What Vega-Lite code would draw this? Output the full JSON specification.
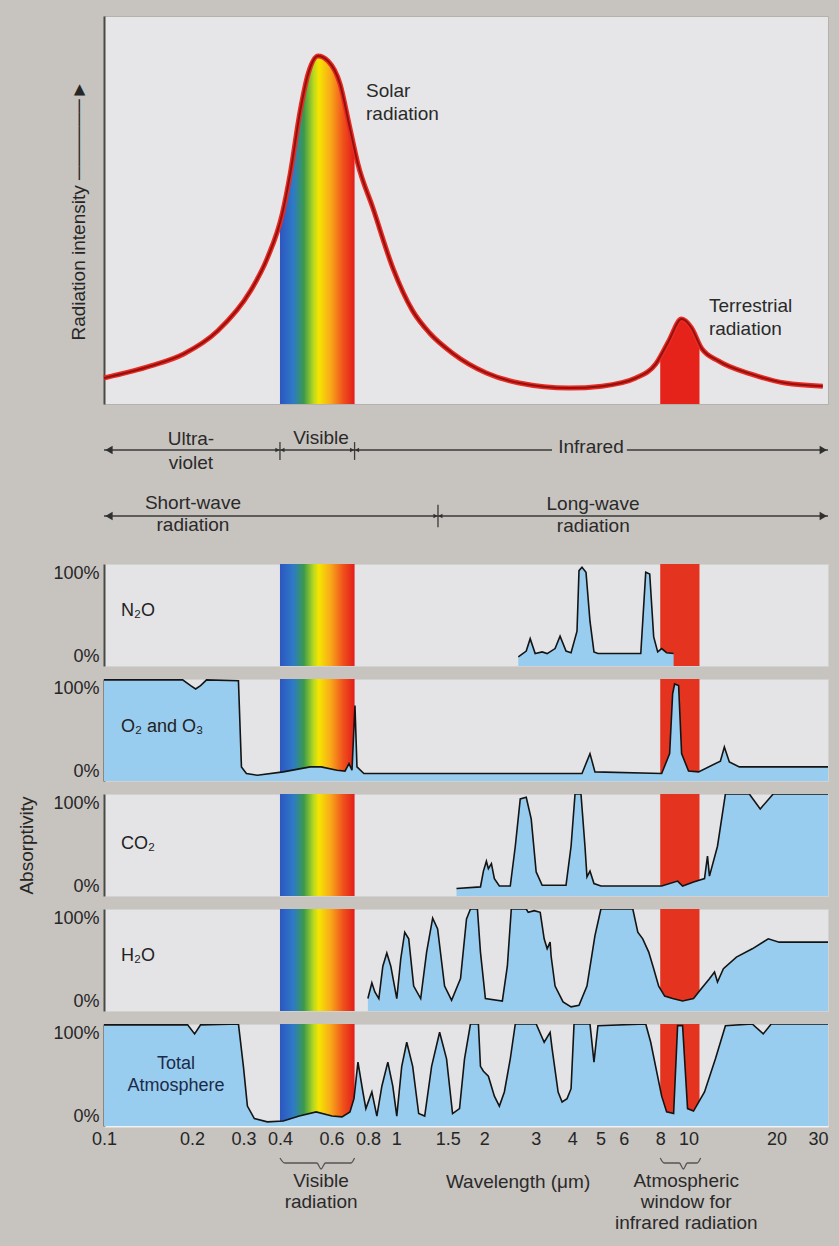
{
  "$schema": "https://vega.github.io/schema/vega-lite/v6.json",
  "background": "#c7c3bf",
  "padding": {"left": 17, "top": 15, "right": 12, "bottom": 8},
  "spacing": 13,
  "bounds": "flush",
  "datasets": {
    "bands": [{"band": "visible", "start": 0.4, "end": 0.72}, {"band": "window", "start": 8, "end": 10.9}],
    "solar": [
      {"w": 0.1, "v": 6.7}, {"w": 0.1445, "v": 9.8}, {"w": 0.1874, "v": 12.9}, {"w": 0.2446, "v": 18.8},
      {"w": 0.3169, "v": 29.1}, {"w": 0.3621, "v": 37.6}, {"w": 0.4073, "v": 49.0}, {"w": 0.4336, "v": 59.3},
      {"w": 0.469, "v": 75.5}, {"w": 0.4994, "v": 85.1}, {"w": 0.54, "v": 89.7}, {"w": 0.584, "v": 88.4},
      {"w": 0.642, "v": 82.5}, {"w": 0.694, "v": 71.1}, {"w": 0.739, "v": 61.9}, {"w": 0.832, "v": 50.5},
      {"w": 0.973, "v": 35.1}, {"w": 1.138, "v": 24.0}, {"w": 1.3, "v": 18.3}, {"w": 1.558, "v": 13.1},
      {"w": 2.034, "v": 8.0}, {"w": 2.636, "v": 5.4}, {"w": 3.9, "v": 4.1}, {"w": 5.05, "v": 4.6},
      {"w": 6.6, "v": 6.7}, {"w": 7.72, "v": 10.3}, {"w": 8.55, "v": 16.2}, {"w": 9.46, "v": 21.9},
      {"w": 10.24, "v": 19.6}, {"w": 11.07, "v": 14.4}, {"w": 12.65, "v": 11.1}, {"w": 16.39, "v": 7.7},
      {"w": 21.4, "v": 5.4}, {"w": 28.8, "v": 4.6}
    ],
    "solarVis": [
      {"w": 0.4, "v": 47.5}, {"w": 0.4073, "v": 49.0}, {"w": 0.4336, "v": 59.3}, {"w": 0.469, "v": 75.5},
      {"w": 0.4994, "v": 85.1}, {"w": 0.54, "v": 89.7}, {"w": 0.584, "v": 88.4}, {"w": 0.642, "v": 82.5},
      {"w": 0.694, "v": 71.1}, {"w": 0.72, "v": 66.0}
    ],
    "terr": [
      {"w": 8.0, "v": 12.0}, {"w": 8.55, "v": 16.2}, {"w": 9.46, "v": 21.9}, {"w": 10.24, "v": 19.6}, {"w": 10.9, "v": 15.5}
    ],
    "toplabels": [
      {"w": 0.788, "v": 80.7, "text": "Solar"}, {"w": 0.788, "v": 74.7, "text": "radiation"},
      {"w": 11.74, "v": 25.3, "text": "Terrestrial"}, {"w": 11.74, "v": 19.3, "text": "radiation"}
    ],
    "arrows": [
      {"row": 1, "a": 0.1, "b": 0.4}, {"row": 1, "a": 0.4, "b": 0.72}, {"row": 1, "a": 0.72, "b": 3.41},
      {"row": 1, "a": 6.15, "b": 30}, {"row": 2, "a": 0.1, "b": 1.389}, {"row": 2, "a": 1.389, "b": 30}
    ],
    "heads": [
      {"w": 0.104, "row": 1, "dir": "left", "kind": "end"}, {"w": 28.9, "row": 1, "dir": "right", "kind": "end"},
      {"w": 0.104, "row": 2, "dir": "left", "kind": "end"}, {"w": 28.9, "row": 2, "dir": "right", "kind": "end"},
      {"w": 0.392, "row": 1, "dir": "right", "kind": "mid"}, {"w": 0.408, "row": 1, "dir": "left", "kind": "mid"},
      {"w": 0.706, "row": 1, "dir": "right", "kind": "mid"}, {"w": 0.734, "row": 1, "dir": "left", "kind": "mid"},
      {"w": 1.362, "row": 2, "dir": "right", "kind": "mid"}, {"w": 1.416, "row": 2, "dir": "left", "kind": "mid"}
    ],
    "ticks": [
      {"w": 0.4, "t": 0.88, "b": 1.15}, {"w": 0.72, "t": 0.88, "b": 1.15}, {"w": 1.389, "t": 1.83, "b": 2.17}
    ],
    "bandtext": [
      {"w": 0.1984, "row": 0.833, "text": "Ultra-"}, {"w": 0.1984, "row": 1.197, "text": "violet"},
      {"w": 0.553, "row": 0.818, "text": "Visible"}, {"w": 4.636, "row": 0.955, "text": "Infrared"},
      {"w": 0.2015, "row": 1.803, "text": "Short-wave"}, {"w": 0.2015, "row": 2.136, "text": "radiation"},
      {"w": 4.71, "row": 1.818, "text": "Long-wave"}, {"w": 4.72, "row": 2.152, "text": "radiation"}
    ],
    "braces": [
      {"g": "vis", "w": 0.4, "y": 19}, {"g": "vis", "w": 0.415, "y": 24}, {"g": "vis", "w": 0.535, "y": 24},
      {"g": "vis", "w": 0.553, "y": 30}, {"g": "vis", "w": 0.572, "y": 24}, {"g": "vis", "w": 0.7, "y": 24},
      {"g": "vis", "w": 0.72, "y": 19},
      {"g": "win", "w": 8.0, "y": 19}, {"g": "win", "w": 8.25, "y": 24}, {"g": "win", "w": 9.3, "y": 24},
      {"g": "win", "w": 9.6, "y": 30}, {"g": "win", "w": 9.9, "y": 24}, {"g": "win", "w": 10.7, "y": 24},
      {"g": "win", "w": 11.0, "y": 19}
    ],
    "bottomtext": [
      {"w": 0.553, "y": 42, "text": "Visible"}, {"w": 0.553, "y": 63, "text": "radiation"},
      {"w": 2.61, "y": 43, "text": "Wavelength (μm)"}, {"w": 9.82, "y": 42, "text": "Atmospheric"},
      {"w": 9.82, "y": 63, "text": "window for"}, {"w": 9.82, "y": 84, "text": "infrared radiation"}
    ],
    "n2o": [
      {"w": 2.615, "v": 0}, {"w": 2.784, "v": 7}, {"w": 2.872, "v": 22}, {"w": 2.987, "v": 4}, {"w": 3.156, "v": 6},
      {"w": 3.283, "v": 4}, {"w": 3.494, "v": 10}, {"w": 3.634, "v": 25}, {"w": 3.809, "v": 7}, {"w": 3.963, "v": 5},
      {"w": 4.153, "v": 31}, {"w": 4.219, "v": 104}, {"w": 4.319, "v": 108}, {"w": 4.458, "v": 102}, {"w": 4.6, "v": 43},
      {"w": 4.747, "v": 6}, {"w": 4.897, "v": 4}, {"w": 6.863, "v": 4}, {"w": 6.971, "v": 43}, {"w": 7.137, "v": 102},
      {"w": 7.364, "v": 100}, {"w": 7.599, "v": 24}, {"w": 7.842, "v": 6}, {"w": 8.091, "v": 10}, {"w": 8.414, "v": 5},
      {"w": 8.89, "v": 4}
    ],
    "o2": [
      {"w": 0.1, "v": 111}, {"w": 0.1858, "v": 111}, {"w": 0.1979, "v": 104}, {"w": 0.2058, "v": 100}, {"w": 0.214, "v": 104},
      {"w": 0.2243, "v": 111}, {"w": 0.2884, "v": 110}, {"w": 0.2953, "v": 6}, {"w": 0.3071, "v": -2}, {"w": 0.3346, "v": -4},
      {"w": 0.4105, "v": 0}, {"w": 0.5075, "v": 6}, {"w": 0.5532, "v": 6}, {"w": 0.6269, "v": 2}, {"w": 0.6677, "v": 1},
      {"w": 0.689, "v": 10}, {"w": 0.7055, "v": 2}, {"w": 0.7222, "v": 80}, {"w": 0.7337, "v": 6}, {"w": 0.7748, "v": -2},
      {"w": 1.28, "v": -2}, {"w": 4.319, "v": -2}, {"w": 4.6, "v": 22}, {"w": 4.784, "v": 0}, {"w": 8.091, "v": -2},
      {"w": 8.616, "v": 22}, {"w": 8.821, "v": 94}, {"w": 8.96, "v": 106}, {"w": 9.247, "v": 104}, {"w": 9.467, "v": 22},
      {"w": 10.0, "v": 1}, {"w": 10.82, "v": 0}, {"w": 12.85, "v": 13}, {"w": 13.26, "v": 30}, {"w": 13.79, "v": 12},
      {"w": 14.92, "v": 6}, {"w": 30, "v": 6}
    ],
    "co2": [
      {"w": 1.607, "v": -2}, {"w": 1.941, "v": 0}, {"w": 1.987, "v": 19}, {"w": 2.034, "v": 31}, {"w": 2.066, "v": 22},
      {"w": 2.116, "v": 28}, {"w": 2.166, "v": 10}, {"w": 2.253, "v": 1}, {"w": 2.455, "v": 1}, {"w": 2.554, "v": 49},
      {"w": 2.656, "v": 106}, {"w": 2.784, "v": 108}, {"w": 2.895, "v": 82}, {"w": 3.011, "v": 18}, {"w": 3.156, "v": 2},
      {"w": 3.809, "v": 2}, {"w": 3.963, "v": 49}, {"w": 4.089, "v": 112}, {"w": 4.285, "v": 112}, {"w": 4.422, "v": 49},
      {"w": 4.492, "v": 12}, {"w": 4.6, "v": 19}, {"w": 4.747, "v": 4}, {"w": 5.013, "v": 1}, {"w": 8.091, "v": 1},
      {"w": 9.174, "v": 7}, {"w": 9.541, "v": 1}, {"w": 10.4, "v": 6}, {"w": 11.34, "v": 10}, {"w": 11.61, "v": 37},
      {"w": 11.79, "v": 13}, {"w": 12.56, "v": 49}, {"w": 13.37, "v": 112}, {"w": 16.14, "v": 112}, {"w": 17.59, "v": 94},
      {"w": 19.48, "v": 112}, {"w": 30, "v": 112}
    ],
    "h2o": [
      {"w": 0.7996, "v": 4}, {"w": 0.8251, "v": 23}, {"w": 0.8448, "v": 12}, {"w": 0.8717, "v": 4}, {"w": 0.8995, "v": 43},
      {"w": 0.9282, "v": 59}, {"w": 0.9578, "v": 43}, {"w": 1.004, "v": 4}, {"w": 1.036, "v": 52}, {"w": 1.069, "v": 84},
      {"w": 1.103, "v": 76}, {"w": 1.147, "v": 19}, {"w": 1.212, "v": 4}, {"w": 1.27, "v": 60}, {"w": 1.332, "v": 101},
      {"w": 1.385, "v": 88}, {"w": 1.463, "v": 19}, {"w": 1.546, "v": 2}, {"w": 1.659, "v": 28}, {"w": 1.739, "v": 100},
      {"w": 1.794, "v": 112}, {"w": 1.895, "v": 112}, {"w": 1.941, "v": 60}, {"w": 2.018, "v": 4}, {"w": 2.306, "v": 1},
      {"w": 2.399, "v": 43}, {"w": 2.475, "v": 112}, {"w": 2.784, "v": 112}, {"w": 2.828, "v": 108}, {"w": 2.964, "v": 110},
      {"w": 3.108, "v": 108}, {"w": 3.206, "v": 76}, {"w": 3.283, "v": 64}, {"w": 3.36, "v": 72}, {"w": 3.387, "v": 55},
      {"w": 3.494, "v": 19}, {"w": 3.721, "v": 0}, {"w": 3.963, "v": -6}, {"w": 4.219, "v": -4}, {"w": 4.492, "v": 19},
      {"w": 4.784, "v": 80}, {"w": 5.013, "v": 112}, {"w": 6.446, "v": 112}, {"w": 6.705, "v": 84}, {"w": 6.971, "v": 76},
      {"w": 7.307, "v": 60}, {"w": 7.599, "v": 40}, {"w": 7.904, "v": 19}, {"w": 8.285, "v": 7}, {"w": 8.821, "v": 4},
      {"w": 9.541, "v": 1}, {"w": 10.4, "v": 4}, {"w": 11.07, "v": 16}, {"w": 11.79, "v": 28}, {"w": 12.27, "v": 36},
      {"w": 12.56, "v": 24}, {"w": 13.16, "v": 40}, {"w": 14.58, "v": 54}, {"w": 16.52, "v": 64}, {"w": 18.74, "v": 76},
      {"w": 20.42, "v": 72}, {"w": 22.09, "v": 72}, {"w": 30, "v": 72}
    ],
    "total": [
      {"w": 0.1, "v": 111}, {"w": 0.1932, "v": 111}, {"w": 0.2042, "v": 100}, {"w": 0.214, "v": 111}, {"w": 0.2884, "v": 112},
      {"w": 0.2999, "v": 61}, {"w": 0.3095, "v": 13}, {"w": 0.3269, "v": -2}, {"w": 0.3621, "v": -6}, {"w": 0.4105, "v": -5},
      {"w": 0.4655, "v": 1}, {"w": 0.5318, "v": 6}, {"w": 0.6028, "v": 1}, {"w": 0.6522, "v": 0}, {"w": 0.6942, "v": 6},
      {"w": 0.7166, "v": 22}, {"w": 0.7394, "v": 66}, {"w": 0.7688, "v": 30}, {"w": 0.787, "v": 10}, {"w": 0.8251, "v": 30},
      {"w": 0.8582, "v": 1}, {"w": 0.8926, "v": 37}, {"w": 0.9356, "v": 66}, {"w": 0.973, "v": 37}, {"w": 1.004, "v": 1},
      {"w": 1.044, "v": 61}, {"w": 1.086, "v": 90}, {"w": 1.138, "v": 61}, {"w": 1.193, "v": 4}, {"w": 1.251, "v": 1},
      {"w": 1.321, "v": 61}, {"w": 1.407, "v": 102}, {"w": 1.486, "v": 70}, {"w": 1.558, "v": 4}, {"w": 1.646, "v": 10},
      {"w": 1.712, "v": 70}, {"w": 1.794, "v": 112}, {"w": 1.91, "v": 112}, {"w": 1.941, "v": 61}, {"w": 1.987, "v": 55},
      {"w": 2.066, "v": 49}, {"w": 2.166, "v": 25}, {"w": 2.253, "v": 13}, {"w": 2.343, "v": 30}, {"w": 2.455, "v": 70},
      {"w": 2.554, "v": 112}, {"w": 3.011, "v": 112}, {"w": 3.206, "v": 90}, {"w": 3.36, "v": 102}, {"w": 3.414, "v": 82},
      {"w": 3.579, "v": 30}, {"w": 3.693, "v": 18}, {"w": 3.84, "v": 22}, {"w": 3.963, "v": 34}, {"w": 4.057, "v": 112},
      {"w": 4.6, "v": 112}, {"w": 4.747, "v": 66}, {"w": 4.897, "v": 110}, {"w": 7.137, "v": 112}, {"w": 7.422, "v": 90},
      {"w": 8.091, "v": 25}, {"w": 8.414, "v": 6}, {"w": 8.89, "v": 4}, {"w": 9.174, "v": 110}, {"w": 9.541, "v": 110},
      {"w": 9.922, "v": 10}, {"w": 10.4, "v": 7}, {"w": 11.34, "v": 30}, {"w": 12.36, "v": 70}, {"w": 13.37, "v": 110},
      {"w": 16.52, "v": 112}, {"w": 18.01, "v": 100}, {"w": 19.18, "v": 112}, {"w": 30, "v": 112}
    ]
  },
  "vconcat": [
    {
      "width": 724, "height": 388,
      "view": {"fill": "#e6e6e8", "stroke": "#b5b1ad"},
      "encoding": {
        "x": {"field": "w", "type": "quantitative", "scale": {"type": "log", "domain": [0.1, 30], "nice": false}, "axis": null},
        "y": {"field": "v", "type": "quantitative", "scale": {"domain": [0, 100], "nice": false},
              "axis": {"title": "Radiation intensity ──────►", "labels": false, "ticks": false, "grid": false, "domainColor": "#4a4a44", "domainWidth": 2, "titlePadding": 16}}
      },
      "layer": [
        {"data": {"name": "solarVis"},
         "mark": {"type": "area", "interpolate": "monotone",
                  "fill": {"gradient": "linear", "x1": 0, "y1": 0, "x2": 1, "y2": 0,
                           "stops": [{"offset": 0, "color": "#2d55c0"}, {"offset": 0.18, "color": "#2e7ac8"}, {"offset": 0.32, "color": "#3a9a4a"}, {"offset": 0.45, "color": "#b8d820"}, {"offset": 0.52, "color": "#f5e600"}, {"offset": 0.68, "color": "#f8a81a"}, {"offset": 0.85, "color": "#f0501c"}, {"offset": 1, "color": "#e21d18"}]}}},
        {"data": {"name": "terr"},
         "mark": {"type": "area", "interpolate": "monotone", "fill": "#e5231b"}},
        {"data": {"name": "solar"},
         "mark": {"type": "line", "interpolate": "monotone", "stroke": "#ec2a22", "strokeWidth": 5}},
        {"data": {"name": "solar"},
         "mark": {"type": "line", "interpolate": "monotone", "stroke": "#8e1210", "strokeWidth": 2}},
        {"data": {"name": "toplabels"},
         "mark": {"type": "text", "align": "left", "fontSize": 19, "color": "#2a2a2a"},
         "encoding": {"text": {"field": "text"}}}
      ]
    },
    {
      "width": 724, "height": 134,
      "view": {"fill": null, "stroke": null},
      "layer": [
        {"data": {"name": "arrows"},
         "mark": {"type": "rule", "color": "#3a3a3a", "strokeWidth": 1.3},
         "encoding": {
           "x": {"field": "a", "type": "quantitative", "scale": {"type": "log", "domain": [0.1, 30], "nice": false}, "axis": null},
           "x2": {"field": "b"},
           "y": {"field": "row", "type": "quantitative", "scale": {"domain": [0.5, 2.53], "reverse": true, "nice": false, "zero": false}, "axis": null}
         }},
        {"data": {"name": "ticks"},
         "mark": {"type": "rule", "color": "#3a3a3a", "strokeWidth": 1.3},
         "encoding": {
           "x": {"field": "w", "type": "quantitative", "scale": {"type": "log", "domain": [0.1, 30], "nice": false}, "axis": null},
           "y": {"field": "t", "type": "quantitative", "scale": {"domain": [0.5, 2.53], "reverse": true, "nice": false, "zero": false}, "axis": null},
           "y2": {"field": "b"}
         }},
        {"data": {"name": "heads"},
         "transform": [{"filter": "datum.kind == 'end'"}],
         "mark": {"type": "point", "filled": true, "size": 70, "color": "#2f2f2f", "opacity": 1},
         "encoding": {
           "x": {"field": "w", "type": "quantitative", "scale": {"type": "log", "domain": [0.1, 30], "nice": false}, "axis": null},
           "y": {"field": "row", "type": "quantitative", "scale": {"domain": [0.5, 2.53], "reverse": true, "nice": false, "zero": false}, "axis": null},
           "shape": {"field": "dir", "type": "nominal", "scale": {"domain": ["left", "right"], "range": ["triangle-left", "triangle-right"]}, "legend": null}
         }},
        {"data": {"name": "heads"},
         "transform": [{"filter": "datum.kind == 'mid'"}],
         "mark": {"type": "point", "filled": true, "size": 22, "color": "#2f2f2f", "opacity": 1},
         "encoding": {
           "x": {"field": "w", "type": "quantitative", "scale": {"type": "log", "domain": [0.1, 30], "nice": false}, "axis": null},
           "y": {"field": "row", "type": "quantitative", "scale": {"domain": [0.5, 2.53], "reverse": true, "nice": false, "zero": false}, "axis": null},
           "shape": {"field": "dir", "type": "nominal", "scale": {"domain": ["left", "right"], "range": ["triangle-left", "triangle-right"]}, "legend": null}
         }},
        {"data": {"name": "bandtext"},
         "mark": {"type": "text", "fontSize": 19, "color": "#2a2a2a"},
         "encoding": {
           "x": {"field": "w", "type": "quantitative", "scale": {"type": "log", "domain": [0.1, 30], "nice": false}, "axis": null},
           "y": {"field": "row", "type": "quantitative", "scale": {"domain": [0.5, 2.53], "reverse": true, "nice": false, "zero": false}, "axis": null},
           "text": {"field": "text"}
         }}
      ]
    },
    {
      "width": 724, "height": 102,
      "layer": [
        {"data": {"name": "bands"}, "transform": [{"filter": "datum.band == 'visible'"}],
         "mark": {"type": "rect", "fill": {"gradient": "linear", "x1": 0, "y1": 0, "x2": 1, "y2": 0,
                  "stops": [{"offset": 0, "color": "#2d55c0"}, {"offset": 0.18, "color": "#2e7ac8"}, {"offset": 0.32, "color": "#3a9a4a"}, {"offset": 0.45, "color": "#b8d820"}, {"offset": 0.52, "color": "#f5e600"}, {"offset": 0.68, "color": "#f8a81a"}, {"offset": 0.85, "color": "#f0501c"}, {"offset": 1, "color": "#e21d18"}]}},
         "encoding": {"x": {"field": "start", "type": "quantitative", "scale": {"type": "log", "domain": [0.1, 30], "nice": false}, "axis": null}, "x2": {"field": "end"}}},
        {"data": {"name": "bands"}, "transform": [{"filter": "datum.band == 'window'"}],
         "mark": {"type": "rect", "fill": "#e4331f"},
         "encoding": {"x": {"field": "start", "type": "quantitative", "scale": {"type": "log", "domain": [0.1, 30], "nice": false}, "axis": null}, "x2": {"field": "end"}}},
        {
          "encoding": {
            "x": {"field": "w", "type": "quantitative", "scale": {"type": "log", "domain": [0.1, 30], "nice": false}, "axis": null},
            "y": {"field": "v", "type": "quantitative", "scale": {"domain": [-11, 112], "nice": false, "zero": false},
                  "axis": {"values": [0, 100], "labelExpr": "datum.value + '%'", "ticks": false, "title": null, "grid": false, "domainColor": "#4a4a44", "domainWidth": 2, "labelPadding": 5}}
          },
          "layer": [
            {"data": {"name": "n2o"}, "mark": {"type": "area", "fill": "#99cdef", "clip": true}, "encoding": {"y2": {"datum": -11}}},
            {"data": {"name": "n2o"}, "mark": {"type": "line", "stroke": "#141414", "strokeWidth": 1.6, "clip": true}},
            {"data": {"values": [{"w": 0.1143, "v": 55, "text": "N₂O"}]},
             "mark": {"type": "text", "align": "left", "fontSize": 18, "color": "#222222"},
             "encoding": {"text": {"field": "text"}}}
          ]
        }
      ]
    },
    {
      "width": 724, "height": 102,
      "layer": [
        {"data": {"name": "bands"}, "transform": [{"filter": "datum.band == 'visible'"}],
         "mark": {"type": "rect", "fill": {"gradient": "linear", "x1": 0, "y1": 0, "x2": 1, "y2": 0,
                  "stops": [{"offset": 0, "color": "#2d55c0"}, {"offset": 0.18, "color": "#2e7ac8"}, {"offset": 0.32, "color": "#3a9a4a"}, {"offset": 0.45, "color": "#b8d820"}, {"offset": 0.52, "color": "#f5e600"}, {"offset": 0.68, "color": "#f8a81a"}, {"offset": 0.85, "color": "#f0501c"}, {"offset": 1, "color": "#e21d18"}]}},
         "encoding": {"x": {"field": "start", "type": "quantitative", "scale": {"type": "log", "domain": [0.1, 30], "nice": false}, "axis": null}, "x2": {"field": "end"}}},
        {"data": {"name": "bands"}, "transform": [{"filter": "datum.band == 'window'"}],
         "mark": {"type": "rect", "fill": "#e4331f"},
         "encoding": {"x": {"field": "start", "type": "quantitative", "scale": {"type": "log", "domain": [0.1, 30], "nice": false}, "axis": null}, "x2": {"field": "end"}}},
        {
          "encoding": {
            "x": {"field": "w", "type": "quantitative", "scale": {"type": "log", "domain": [0.1, 30], "nice": false}, "axis": null},
            "y": {"field": "v", "type": "quantitative", "scale": {"domain": [-11, 112], "nice": false, "zero": false},
                  "axis": {"values": [0, 100], "labelExpr": "datum.value + '%'", "ticks": false, "title": null, "grid": false, "domainColor": "#4a4a44", "domainWidth": 2, "labelPadding": 5}}
          },
          "layer": [
            {"data": {"name": "o2"}, "mark": {"type": "area", "fill": "#99cdef", "clip": true}, "encoding": {"y2": {"datum": -11}}},
            {"data": {"name": "o2"}, "mark": {"type": "line", "stroke": "#141414", "strokeWidth": 1.6, "clip": true}},
            {"data": {"values": [{"w": 0.1143, "v": 54, "text": "O₂ and O₃"}]},
             "mark": {"type": "text", "align": "left", "fontSize": 18, "color": "#222222"},
             "encoding": {"text": {"field": "text"}}}
          ]
        }
      ]
    },
    {
      "width": 724, "height": 102,
      "layer": [
        {"data": {"name": "bands"}, "transform": [{"filter": "datum.band == 'visible'"}],
         "mark": {"type": "rect", "fill": {"gradient": "linear", "x1": 0, "y1": 0, "x2": 1, "y2": 0,
                  "stops": [{"offset": 0, "color": "#2d55c0"}, {"offset": 0.18, "color": "#2e7ac8"}, {"offset": 0.32, "color": "#3a9a4a"}, {"offset": 0.45, "color": "#b8d820"}, {"offset": 0.52, "color": "#f5e600"}, {"offset": 0.68, "color": "#f8a81a"}, {"offset": 0.85, "color": "#f0501c"}, {"offset": 1, "color": "#e21d18"}]}},
         "encoding": {"x": {"field": "start", "type": "quantitative", "scale": {"type": "log", "domain": [0.1, 30], "nice": false}, "axis": null}, "x2": {"field": "end"}}},
        {"data": {"name": "bands"}, "transform": [{"filter": "datum.band == 'window'"}],
         "mark": {"type": "rect", "fill": "#e4331f"},
         "encoding": {"x": {"field": "start", "type": "quantitative", "scale": {"type": "log", "domain": [0.1, 30], "nice": false}, "axis": null}, "x2": {"field": "end"}}},
        {
          "encoding": {
            "x": {"field": "w", "type": "quantitative", "scale": {"type": "log", "domain": [0.1, 30], "nice": false}, "axis": null},
            "y": {"field": "v", "type": "quantitative", "scale": {"domain": [-11, 112], "nice": false, "zero": false},
                  "axis": {"values": [0, 100], "labelExpr": "datum.value + '%'", "ticks": false, "title": "Absorptivity", "titlePadding": 16, "grid": false, "domainColor": "#4a4a44", "domainWidth": 2, "labelPadding": 5}}
          },
          "layer": [
            {"data": {"name": "co2"}, "mark": {"type": "area", "fill": "#99cdef", "clip": true}, "encoding": {"y2": {"datum": -11}}},
            {"data": {"name": "co2"}, "mark": {"type": "line", "stroke": "#141414", "strokeWidth": 1.6, "clip": true}},
            {"data": {"values": [{"w": 0.1143, "v": 52, "text": "CO₂"}]},
             "mark": {"type": "text", "align": "left", "fontSize": 18, "color": "#222222"},
             "encoding": {"text": {"field": "text"}}}
          ]
        }
      ]
    },
    {
      "width": 724, "height": 102,
      "layer": [
        {"data": {"name": "bands"}, "transform": [{"filter": "datum.band == 'visible'"}],
         "mark": {"type": "rect", "fill": {"gradient": "linear", "x1": 0, "y1": 0, "x2": 1, "y2": 0,
                  "stops": [{"offset": 0, "color": "#2d55c0"}, {"offset": 0.18, "color": "#2e7ac8"}, {"offset": 0.32, "color": "#3a9a4a"}, {"offset": 0.45, "color": "#b8d820"}, {"offset": 0.52, "color": "#f5e600"}, {"offset": 0.68, "color": "#f8a81a"}, {"offset": 0.85, "color": "#f0501c"}, {"offset": 1, "color": "#e21d18"}]}},
         "encoding": {"x": {"field": "start", "type": "quantitative", "scale": {"type": "log", "domain": [0.1, 30], "nice": false}, "axis": null}, "x2": {"field": "end"}}},
        {"data": {"name": "bands"}, "transform": [{"filter": "datum.band == 'window'"}],
         "mark": {"type": "rect", "fill": "#e4331f"},
         "encoding": {"x": {"field": "start", "type": "quantitative", "scale": {"type": "log", "domain": [0.1, 30], "nice": false}, "axis": null}, "x2": {"field": "end"}}},
        {
          "encoding": {
            "x": {"field": "w", "type": "quantitative", "scale": {"type": "log", "domain": [0.1, 30], "nice": false}, "axis": null},
            "y": {"field": "v", "type": "quantitative", "scale": {"domain": [-11, 112], "nice": false, "zero": false},
                  "axis": {"values": [0, 100], "labelExpr": "datum.value + '%'", "ticks": false, "title": null, "grid": false, "domainColor": "#4a4a44", "domainWidth": 2, "labelPadding": 5}}
          },
          "layer": [
            {"data": {"name": "h2o"}, "mark": {"type": "area", "fill": "#99cdef", "clip": true}, "encoding": {"y2": {"datum": -11}}},
            {"data": {"name": "h2o"}, "mark": {"type": "line", "stroke": "#141414", "strokeWidth": 1.6, "clip": true}},
            {"data": {"values": [{"w": 0.1143, "v": 55, "text": "H₂O"}]},
             "mark": {"type": "text", "align": "left", "fontSize": 18, "color": "#222222"},
             "encoding": {"text": {"field": "text"}}}
          ]
        }
      ]
    },
    {
      "width": 724, "height": 102,
      "layer": [
        {"data": {"name": "bands"}, "transform": [{"filter": "datum.band == 'visible'"}],
         "mark": {"type": "rect", "fill": {"gradient": "linear", "x1": 0, "y1": 0, "x2": 1, "y2": 0,
                  "stops": [{"offset": 0, "color": "#2d55c0"}, {"offset": 0.18, "color": "#2e7ac8"}, {"offset": 0.32, "color": "#3a9a4a"}, {"offset": 0.45, "color": "#b8d820"}, {"offset": 0.52, "color": "#f5e600"}, {"offset": 0.68, "color": "#f8a81a"}, {"offset": 0.85, "color": "#f0501c"}, {"offset": 1, "color": "#e21d18"}]}},
         "encoding": {"x": {"field": "start", "type": "quantitative", "scale": {"type": "log", "domain": [0.1, 30], "nice": false},
                            "axis": {"values": [0.1, 0.2, 0.3, 0.4, 0.6, 0.8, 1, 1.5, 2, 3, 4, 5, 6, 8, 10, 20, 30], "format": "~g", "ticks": false, "grid": false, "title": null, "domain": true, "domainColor": "#f2f2f2", "domainWidth": 2, "labelPadding": 4, "labelOverlap": false, "labelFlush": false, "labelAlign": {"condition": {"test": "datum.value >= 30", "value": "right"}, "value": "center"}}},
                      "x2": {"field": "end"}}},
        {"data": {"name": "bands"}, "transform": [{"filter": "datum.band == 'window'"}],
         "mark": {"type": "rect", "fill": "#e4331f"},
         "encoding": {"x": {"field": "start", "type": "quantitative", "scale": {"type": "log", "domain": [0.1, 30], "nice": false},
                            "axis": {"values": [0.1, 0.2, 0.3, 0.4, 0.6, 0.8, 1, 1.5, 2, 3, 4, 5, 6, 8, 10, 20, 30], "format": "~g", "ticks": false, "grid": false, "title": null, "domain": true, "domainColor": "#f2f2f2", "domainWidth": 2, "labelPadding": 4, "labelOverlap": false, "labelFlush": false, "labelAlign": {"condition": {"test": "datum.value >= 30", "value": "right"}, "value": "center"}}},
                      "x2": {"field": "end"}}},
        {
          "encoding": {
            "x": {"field": "w", "type": "quantitative", "scale": {"type": "log", "domain": [0.1, 30], "nice": false},
                  "axis": {"values": [0.1, 0.2, 0.3, 0.4, 0.6, 0.8, 1, 1.5, 2, 3, 4, 5, 6, 8, 10, 20, 30], "format": "~g", "ticks": false, "grid": false, "title": null, "domain": true, "domainColor": "#f2f2f2", "domainWidth": 2, "labelPadding": 4, "labelOverlap": false, "labelFlush": false, "labelAlign": {"condition": {"test": "datum.value >= 30", "value": "right"}, "value": "center"}}},
            "y": {"field": "v", "type": "quantitative", "scale": {"domain": [-11, 112], "nice": false, "zero": false},
                  "axis": {"values": [0, 100], "labelExpr": "datum.value + '%'", "ticks": false, "title": null, "grid": false, "domainColor": "#4a4a44", "domainWidth": 2, "labelPadding": 5}}
          },
          "layer": [
            {"data": {"name": "total"}, "mark": {"type": "area", "fill": "#99cdef", "clip": true}, "encoding": {"y2": {"datum": -11}}},
            {"data": {"name": "total"}, "mark": {"type": "line", "stroke": "#141414", "strokeWidth": 1.6, "clip": true}},
            {"data": {"values": [{"w": 0.1763, "v": 64, "text": "Total"}, {"w": 0.1763, "v": 37, "text": "Atmosphere"}]},
             "mark": {"type": "text", "align": "center", "fontSize": 18, "color": "#1c2a4a"},
             "encoding": {"text": {"field": "text"}}}
          ]
        }
      ]
    },
    {
      "width": 724, "height": 100,
      "view": {"fill": null, "stroke": null},
      "layer": [
        {"data": {"name": "braces"},
         "mark": {"type": "line", "stroke": "#555555", "strokeWidth": 1.3, "interpolate": "monotone"},
         "encoding": {
           "x": {"field": "w", "type": "quantitative", "scale": {"type": "log", "domain": [0.1, 30], "nice": false}, "axis": null},
           "y": {"field": "y", "type": "quantitative", "scale": {"domain": [0, 100], "reverse": true, "nice": false}, "axis": null},
           "detail": {"field": "g"}
         }},
        {"data": {"name": "bottomtext"},
         "mark": {"type": "text", "fontSize": 19, "color": "#2a2a2a"},
         "encoding": {
           "x": {"field": "w", "type": "quantitative", "scale": {"type": "log", "domain": [0.1, 30], "nice": false}, "axis": null},
           "y": {"field": "y", "type": "quantitative", "scale": {"domain": [0, 100], "reverse": true, "nice": false}, "axis": null},
           "text": {"field": "text"}
         }}
      ]
    }
  ],
  "config": {
    "font": "Liberation Sans",
    "view": {"fill": "#e4e4e6", "stroke": "#d2d2d2"},
    "axis": {"grid": false, "labelFont": "Liberation Sans", "labelFontSize": 18, "labelColor": "#262626", "titleFont": "Liberation Sans", "titleFontSize": 19, "titleFontWeight": "normal", "titleColor": "#262626"},
    "text": {"font": "Liberation Sans"}
  }
}
